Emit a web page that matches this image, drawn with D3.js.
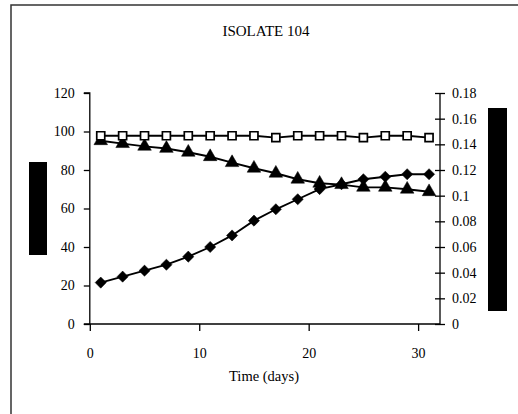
<!DOCTYPE html>
<html>
   <head>
      <title>Isolate 104</title>
      <script src="https://cdn.jsdelivr.net/npm/d3@7/dist/d3.min.js"></script>
   </head>
   <style>
      body {
         margin: 0px;
         overflow: hidden;
         background: #fff;
      }

      text {
         font-family: "Liberation Serif", "DejaVu Serif", serif;
         fill: #000;
      }
   </style>
   <body>
      <svg width="518" height="414"></svg>
      <script>
         // days sampled
         const days = [1, 3, 5, 7, 9, 11, 13, 15, 17, 19, 21, 23, 25, 27, 29, 31];
         // series (left axis units)
         const squares = [97.8, 97.8, 97.8, 97.8, 97.8, 97.8, 97.8, 97.8, 96.8, 97.8, 97.8, 97.8, 96.8, 97.8, 97.8, 96.8];
         const triangles = [95.2, 93.7, 92.3, 91.2, 89.2, 86.9, 83.8, 80.9, 78.3, 75.2, 73.1, 72.4, 71.0, 71.0, 70.0, 68.7];
         const diamonds = [21.5, 24.6, 27.7, 30.8, 35.0, 40.0, 46.0, 53.7, 59.6, 64.8, 70.1, 72.6, 75.2, 76.5, 77.8, 77.8];

         const xTicks = [0, 10, 20, 30];
         const yTicks = [0, 20, 40, 60, 80, 100, 120];
         const y2Ticks = [0, 0.02, 0.04, 0.06, 0.08, 0.1, 0.12, 0.14, 0.16, 0.18];

         const svg = d3.select("svg");

         // outer chart frame (runs off the right and bottom of the picture)
         svg.append("rect")
            .attr("x", 11).attr("y", 5)
            .attr("width", 520).attr("height", 420)
            .attr("fill", "none")
            .attr("stroke", "#333")
            .attr("stroke-width", 1.5);

         const x = d3.scaleLinear().domain([0, 32]).range([89.8, 440]);
         const y = d3.scaleLinear().domain([0, 120]).range([324, 93]);
         const y2 = d3.scaleLinear().domain([0, 0.18]).range([324, 93]);

         svg.append("text")
            .attr("x", 266).attr("y", 36)
            .attr("text-anchor", "middle")
            .style("font-size", "15px")
            .text("ISOLATE 104");

         // left axis
         const gy = svg.append("g")
            .attr("transform", "translate(89.8,0)")
            .call(d3.axisLeft(y).tickValues(yTicks).tickSize(6).tickPadding(9).tickFormat(d3.format("d")));

         // right axis, ticks cross the line
         const gy2 = svg.append("g")
            .attr("transform", "translate(440,0)")
            .call(d3.axisRight(y2).tickValues(y2Ticks).tickSize(5).tickPadding(7).tickFormat(d => d === 0 ? "0" : d3.format("")(+d.toFixed(2))));
         gy2.selectAll(".tick line").attr("x1", -5);

         // bottom axis
         const gx = svg.append("g")
            .attr("transform", "translate(0,324)")
            .call(d3.axisBottom(x).tickValues(xTicks).tickSize(7).tickPadding(17).tickSizeOuter(0));

         [gy, gy2, gx].forEach(g => {
            g.select(".domain").attr("stroke", "#000").attr("stroke-width", 1.3);
            g.selectAll(".tick line").attr("stroke", "#000").attr("stroke-width", 1.3);
            g.selectAll("text")
               .style("font-family", "'Liberation Serif', serif")
               .style("font-size", "14px")
               .attr("fill", "#000");
         });
         gy.select(".domain").attr("d", "M-6,93H0V324H-6");
         gy2.select(".domain").attr("d", "M0,93V324");
         gx.select(".domain").attr("d", "M89.8,0H440");

         svg.append("text")
            .attr("x", 264).attr("y", 381)
            .attr("text-anchor", "middle")
            .style("font-size", "14.5px")
            .text("Time (days)");

         // redacted axis titles
         svg.append("rect").attr("x", 29).attr("y", 162).attr("width", 18).attr("height", 93).attr("fill", "#000");
         svg.append("rect").attr("x", 488).attr("y", 108).attr("width", 19).attr("height", 203).attr("fill", "#000");

         const line = d3.line().x((d, i) => x(days[i])).y(d => y(d));

         function drawSeries(values, symbol, size, fill, rot) {
            svg.append("path")
               .attr("d", line(values))
               .attr("fill", "none")
               .attr("stroke", "#000")
               .attr("stroke-width", 1.9);
            svg.append("g")
               .selectAll("path")
               .data(values)
               .enter()
               .append("path")
               .attr("transform", (d, i) => `translate(${x(days[i])},${y(d)}) rotate(${rot})`)
               .attr("d", d3.symbol().type(symbol).size(size)())
               .attr("fill", fill)
               .attr("stroke", "#000")
               .attr("stroke-width", fill === "#fff" ? 1.7 : 0.5);
         }

         drawSeries(diamonds, d3.symbolSquare, 62, "#000", 45);
         drawSeries(triangles, d3.symbolTriangle, 80, "#000", 0);
         drawSeries(squares, d3.symbolSquare, 64, "#fff", 0);
      </script>
   </body>
</html>
